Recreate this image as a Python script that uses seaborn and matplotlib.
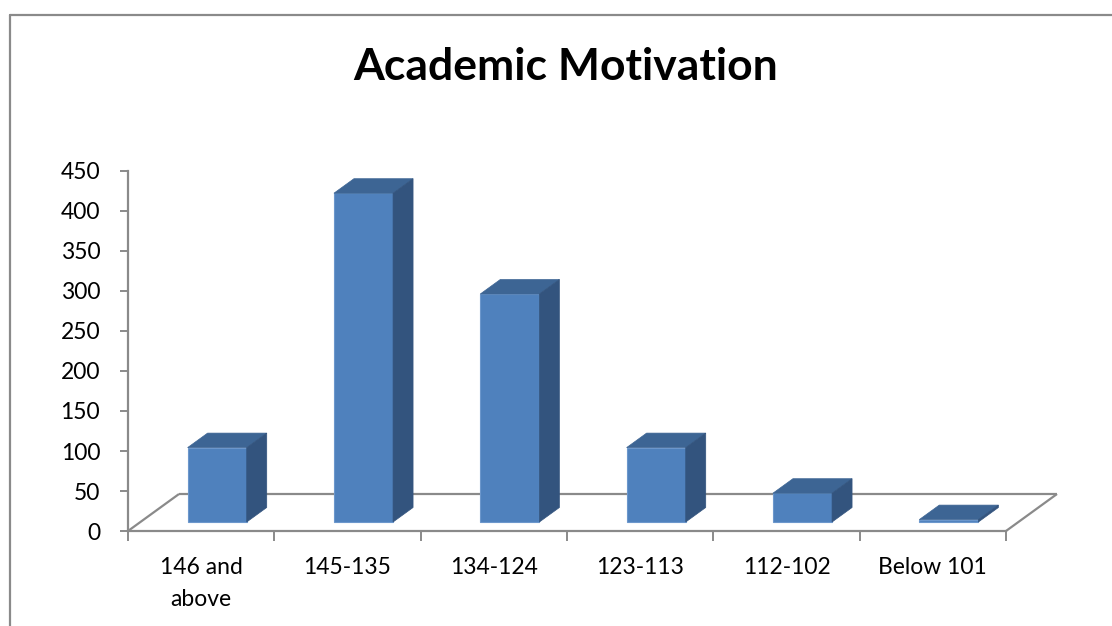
import matplotlib
matplotlib.use("Agg")
import matplotlib.pyplot as plt
from matplotlib.patches import Polygon
from matplotlib.lines import Line2D
import seaborn as sns

# Score bands and number of students in each
categories = ["146 and\nabove", "145-135", "134-124", "123-113", "112-102", "Below 101"]
counts = [93, 411, 285, 93, 36, 3]
y_ticks = [0, 50, 100, 150, 200, 250, 300, 350, 400, 450]
title = "Academic Motivation"

W, H = 1112, 626
sns.set_style("white")
plt.rcParams["font.family"] = ["Lato", "DejaVu Sans"]

FRONT = "#4F81BD"
TOP = "#3D6594"
SIDE = "#33547E"
GREY = "#8A8A8A"

fig = plt.figure(figsize=(W / 100, H / 100), dpi=100)

# plot area in pixels (front plane of the 3-D box)
left_px, right_px, top_px, bottom_px = 128, 1006, 171, 531
ax = fig.add_axes([left_px / W, 1 - bottom_px / H,
                   (right_px - left_px) / W, (bottom_px - top_px) / H])

sns.barplot(x=categories, y=counts, color=FRONT, saturation=1, width=0.404,
            edgecolor="#6C97CC", linewidth=0.8, ax=ax, zorder=4)

ax.set_xlim(-0.5, len(categories) - 0.5)
ax.set_ylim(y_ticks[0], y_ticks[-1])

# pixel -> data conversion factors
ux = (right_px - left_px) / len(categories)
uy = (bottom_px - top_px) / (y_ticks[-1] - y_ticks[0])

# floor of the 3-D box
depth_x, depth_y = 51 / ux, 37 / uy
x_lo, x_hi = -0.5, len(categories) - 0.5
floor_kw = dict(color=GREY, lw=1.6, clip_on=False, zorder=1, solid_capstyle="butt")
ax.plot([x_lo, x_lo + depth_x], [0, depth_y], **floor_kw)
ax.plot([x_lo + depth_x, x_hi + depth_x], [depth_y, depth_y], **floor_kw)
ax.plot([x_hi, x_hi + depth_x], [0, depth_y], **floor_kw)

# push each bar back into the box and add its top and side faces
shift_x, shift_y = 16 / ux, 9 / uy
back_x, back_y = 20 / ux, 14.5 / uy
for bar in list(ax.patches):
    x0 = bar.get_x() + shift_x
    w = bar.get_width()
    h = bar.get_height()
    bar.set_x(x0)
    bar.set_y(shift_y)
    bar.set_clip_on(False)
    x1 = x0 + w
    y0, y1 = shift_y, shift_y + h
    ax.add_patch(Polygon([(x0, y1), (x1, y1), (x1 + back_x, y1 + back_y),
                          (x0 + back_x, y1 + back_y)], closed=True,
                         facecolor=TOP, edgecolor=TOP, lw=0.5, zorder=4, clip_on=False))
    ax.add_patch(Polygon([(x1, y0), (x1 + back_x, y0 + back_y),
                          (x1 + back_x, y1 + back_y), (x1, y1)], closed=True,
                         facecolor=SIDE, edgecolor=SIDE, lw=0.5, zorder=4, clip_on=False))

# axes styling
for s in ["top", "right"]:
    ax.spines[s].set_visible(False)
for s in ["left", "bottom"]:
    ax.spines[s].set_color(GREY)
    ax.spines[s].set_linewidth(1.6)
    ax.spines[s].set_zorder(2)

ax.set_yticks(y_ticks)
ax.set_yticklabels([str(v) for v in y_ticks])
ax.tick_params(axis="y", which="major", length=6, width=1.4, color=GREY,
               pad=14, labelsize=16.5, labelcolor="black", left=True)

ax.set_xticks(range(len(categories)))
ax.set_xticklabels(categories)
ax.set_xticks([i - 0.5 for i in range(len(categories) + 1)], minor=True)
ax.tick_params(axis="x", which="major", length=0, pad=18.5, labelsize=16.5,
               labelcolor="black")
ax.tick_params(axis="x", which="minor", length=7, width=1.4, color=GREY,
               bottom=True)
for lbl in ax.get_xticklabels():
    lbl.set_linespacing(1.65)
ax.set_xlabel("")
ax.set_ylabel("")

# title
fig.text(566 / W, 1 - 80 / H, title, ha="center", va="baseline",
         fontsize=32, fontweight="bold", color="black")

# chart frame (runs off the right and bottom edges)
frame_kw = dict(color=GREY, lw=1.6, transform=fig.transFigure)
fig.add_artist(Line2D([10 / W, 1.01], [1 - 15 / H, 1 - 15 / H], **frame_kw))
fig.add_artist(Line2D([10 / W, 10 / W], [1 - 15 / H, -0.01], **frame_kw))

fig.savefig("out.png", dpi=100)
